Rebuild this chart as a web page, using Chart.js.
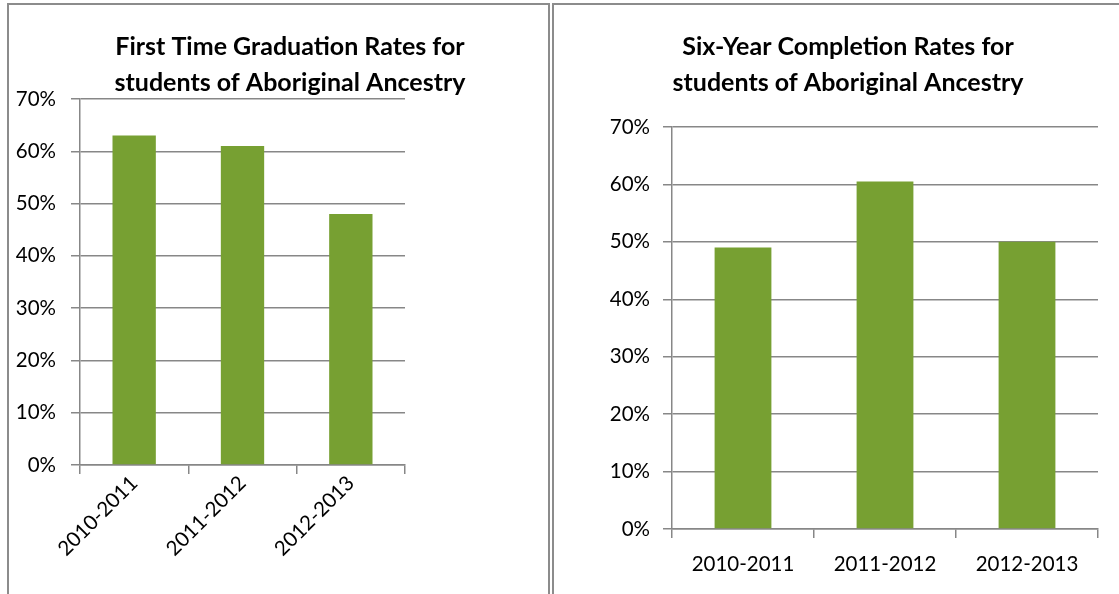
<!DOCTYPE html>
<html>
<head>
<meta charset="utf-8">
<script src="https://cdn.jsdelivr.net/npm/chart.js@4/dist/chart.umd.min.js"></script>
<style>
  html, body { margin: 0; padding: 0; background: #fff; overflow: hidden; }
  body { width: 1119px; height: 594px; position: relative; }
  .panel { position: absolute; border: 2px solid #8c8c8c; overflow: hidden; background: #fff; }
  #leftPanel { left: 7px; top: 3px; width: 539px; height: 620px; }
  #rightPanel { left: 552px; top: 3px; width: 600px; height: 620px; }
  canvas { position: absolute; left: 0; top: 0; }
</style>
</head>
<body>
<div class="panel" id="leftPanel"><canvas id="leftChart"></canvas></div>
<div class="panel" id="rightPanel"><canvas id="rightChart"></canvas></div>
<script>
// data
const categories = ['2010-2011', '2011-2012', '2012-2013'];
const firstTimeRates = [63, 61, 48];
const sixYearRates = [49, 60.5, 50];
const yMax = 70;
const yStep = 10;

const barColor = '#77a032';
const lineColor = '#878787';
const fontFamily = 'Lato, "Open Sans", sans-serif';

function makeChart(id, size, title, values, cfg) {
    const canvas = document.getElementById(id);
    canvas.width = size.w;
    canvas.height = size.h;
    canvas.style.width = size.w + 'px';
    canvas.style.height = size.h + 'px';

    return new Chart(canvas.getContext('2d'), {
        type: 'bar',
        data: {
            labels: categories,
            datasets: [{
                data: values,
                backgroundColor: barColor,
                borderWidth: 0,
                barPercentage: 0.4,
                categoryPercentage: 1
            }]
        },
        options: {
            responsive: false,
            animation: false,
            layout: { padding: 0 },
            scales: {
                x: {
                    grid: {
                        offset: true,
                        drawOnChartArea: false,
                        drawTicks: true,
                        tickLength: 9,
                        color: lineColor,
                        lineWidth: 1.5
                    },
                    border: { color: lineColor, width: 1.5 },
                    ticks: {
                        color: '#000',
                        font: { family: fontFamily, size: 20.5 },
                        minRotation: cfg.rotation,
                        maxRotation: cfg.rotation,
                        padding: cfg.xPad
                    },
                    afterFit: (s) => { s.height = cfg.xHeight; }
                },
                y: {
                    min: 0,
                    max: yMax,
                    grid: {
                        color: lineColor,
                        lineWidth: 1.5,
                        tickLength: 9
                    },
                    border: { color: lineColor, width: 1.5 },
                    ticks: {
                        stepSize: yStep,
                        color: '#000',
                        padding: cfg.yPad,
                        font: { family: fontFamily, size: 20.5 },
                        callback: (v) => v + '%'
                    },
                    afterFit: (s) => { s.width = cfg.yWidth; }
                },
                // empty right-hand gap so the title centres like the original
                gap: {
                    axis: 'y',
                    position: 'right',
                    grid: { display: false },
                    border: { display: false },
                    ticks: { display: false },
                    afterFit: (s) => { s.width = cfg.rightGap; }
                }
            },
            plugins: {
                legend: { display: false },
                tooltip: { enabled: false },
                title: {
                    display: true,
                    text: title,
                    color: '#000',
                    font: { family: fontFamily, size: 25, weight: 'bold', lineHeight: 1.44 },
                    padding: cfg.titlePad
                }
            }
        }
    });
}

makeChart('leftChart', { w: 562, h: 592 },
    ['First Time Graduation Rates for', 'students of Aboriginal Ancestry'],
    firstTimeRates,
    {
        rightGap: 166,
        titlePad: { top: 24, bottom: -2 },
        rotation: 45,
        xPad: -3,
        xHeight: 132,
        yWidth: 71,
        yPad: 15
    });

makeChart('rightChart', { w: 588, h: 592 },
    ['Six-Year Completion Rates for', 'students of Aboriginal Ancestry'],
    sixYearRates,
    {
        rightGap: 44,
        titlePad: { top: 24, bottom: 26 },
        rotation: 0,
        xPad: 14,
        xHeight: 68,
        yWidth: 118,
        yPad: 13
    });
</script>
</body>
</html>
